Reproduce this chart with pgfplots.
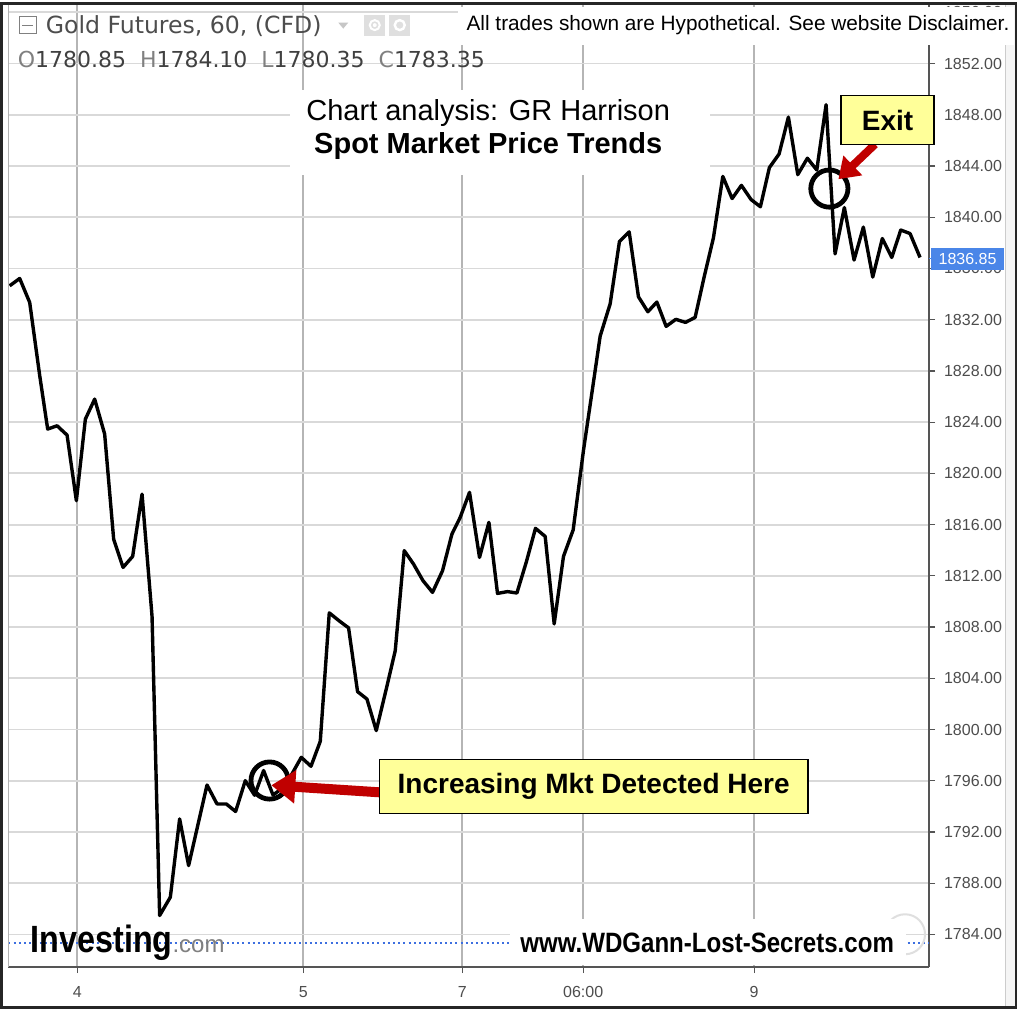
\documentclass[border=0pt]{standalone}
\usepackage{pgfplots}
\pgfplotsset{compat=1.18}
\usepackage{pgfplotstable}
\usepackage{graphicx}
\usetikzlibrary{arrows.meta}
\usepackage{fontspec}
\setmainfont{Liberation Sans}
\newfontfamily\dejavu{DejaVu Sans}
\definecolor{gridh}{HTML}{D9D9D9}
\definecolor{gridv}{HTML}{B5B5B5}
\definecolor{axgray}{HTML}{555555}
\definecolor{lblgray}{HTML}{4D4D4D}
\definecolor{noteyel}{HTML}{FFFF99}
\definecolor{arrred}{HTML}{C00000}
\definecolor{tvblue}{HTML}{4A86E8}
\definecolor{dotblue}{HTML}{3D6FE0}

\pgfplotstableread{
x y
9.3 1834.65
19.3 1835.22
29.3 1833.35
39.3 1827.65
47.3 1823.46
56.7 1823.72
66.7 1822.99
76 1817.87
85 1824.24
94.3 1825.80
104.3 1823.07
113.3 1814.87
122.7 1812.66
132.3 1813.52
141.7 1818.38
151.7 1808.84
159.3 1785.48
170 1786.91
179.3 1793.02
188.3 1789.38
197.7 1792.60
206.7 1795.67
216.7 1794.19
226 1794.19
235.3 1793.60
245 1796.01
254.3 1794.87
263.3 1796.80
272.7 1794.89
282 1795.41
291.5 1796.51
301 1797.83
310.7 1797.13
320 1799.08
329 1809.11
338.7 1808.50
348.3 1807.94
357.3 1802.96
366.7 1802.38
376 1799.92
386 1803.16
395 1806.16
404 1813.97
413.3 1812.92
422.7 1811.63
432.3 1810.71
442.3 1812.40
451.7 1815.26
460 1816.57
469.3 1818.52
479.3 1813.44
488.7 1816.18
497.3 1810.63
507.3 1810.77
516.7 1810.66
526 1813.05
535.3 1815.71
545 1815.08
554 1808.25
563.3 1813.52
573 1815.59
583.3 1821.80
591.7 1826.27
600 1830.72
610 1833.24
619.3 1838.11
629 1838.86
638.3 1833.79
647.7 1832.62
656.7 1833.38
666 1831.48
675.7 1832.03
685.3 1831.79
695 1832.18
704 1835.33
713.3 1838.39
722.7 1843.19
732 1841.46
741.3 1842.49
751 1841.38
760.3 1840.82
769.3 1843.88
779 1844.94
788.3 1847.82
797.7 1843.33
807.3 1844.61
816.7 1843.69
826 1848.79
835 1837.14
844.3 1840.76
854 1836.66
863.3 1839.23
872.7 1835.33
882.3 1838.34
891.7 1836.86
900.7 1839.00
910 1838.73
920 1836.86
}\gold

\begin{document}
\begin{tikzpicture}
\fill[white] (0,0) rectangle (515pt,504pt);
\begin{axis}[
  at={(4pt,21.5pt)}, anchor=south west,
  scale only axis, width=460.5pt, height=482.5pt,
  xmin=8, xmax=929, ymin=1781.44, ymax=1856.76,
  axis x line*=bottom, axis y line*=right,
  axis line style={axgray, line width=0.8pt, -},
  xtick={77,303,462,583,754},
  xticklabels={4,5,7,06:00,9},
  ytick={1784,1788,...,1856},
  yticklabel pos=right,
  tick align=outside,
  major tick length=3pt,
  tick style={axgray, line width=0.6pt},
  grid=major,
  x grid style={gridv, line width=0.9pt},
  y grid style={gridh, line width=0.9pt},
  /pgf/number format/.cd, fixed, fixed zerofill, precision=2, 1000 sep={}, assume math mode=true,
  /pgfplots/.cd,
  yticklabel style={font=\fontsize{8}{8}\selectfont, text=lblgray, xshift=1pt},
  xticklabel style={font=\fontsize{8}{8}\selectfont, text=lblgray, yshift=-3pt},
  clip=false,
]
\addplot[dotblue, line width=0.9pt, dash pattern=on 1pt off 1.6pt] coordinates {(8,1783.35) (929,1783.35)};
\addplot[black, line width=1.7pt, line join=round] table {\gold};
\draw[black, line width=2.4pt] (axis cs:269.3,1796.02) circle[radius=9.3pt];
\draw[black, line width=2.4pt] (axis cs:829.3,1842.24) circle[radius=9.3pt];
\draw[arrred, line width=5pt, -{Triangle[length=12pt,width=16pt]}] (axis cs:379,1795.10) -- (axis cs:271,1795.65);
\draw[arrred, line width=4pt, -{Triangle[length=10pt,width=13pt]}] (axis cs:875,1845.70) -- (axis cs:838.3,1842.97);
\end{axis}
\begin{scope}[x=0.5pt, y=-0.5pt, shift={(0,504pt)}]
% frame
\draw[gray!60, line width=0.6pt] (8,0) -- (8,965);
\fill[gray!8] (1005,2) rectangle (1015,1004);
\draw[gray!40, line width=0.5pt] (1005,2) -- (1005,1004);
\draw[black!85, line width=1.4pt] (1,1) rectangle (1016,1005);
% title
\fill[white] (290,87) rectangle (710,172);
\node[font=\fontsize{14.5}{16.5}\selectfont, align=center] at (488,127) {Chart analysis: GR Harrison\\\textbf{Spot Market Price Trends}};
% disclaimer
\fill[white] (458,4) rectangle (1014,42);
\node[anchor=west, font=\fontsize{10.4}{10.4}\selectfont, inner sep=0] at (466,23) {All trades shown are Hypothetical. See website Disclaimer.};
% header
\draw[gray, line width=0.5pt] (19,14) rectangle (36,31);
\draw[gray, line width=0.6pt] (22,22.5) -- (33,22.5);
\node[anchor=west, font=\dejavu\fontsize{11.8}{11.8}\selectfont, text=lblgray, inner sep=0] at (45,23) {Gold Futures, 60, (CFD)};
\fill[gray!45] (338,20) -- (348,20) -- (343,26) -- cycle;
\fill[gray!25] (364,12) rectangle (385,33);
\fill[gray!25] (389,12) rectangle (410,33);
\draw[white, line width=1pt] (374.5,22.5) circle[radius=2.5pt];
\fill[white] (374.5,22.5) circle[radius=1pt];
\draw[white, line width=1.2pt] (399.5,22.5) circle[radius=2.5pt];
\node[anchor=west, font=\dejavu\fontsize{11}{11}\selectfont, inner sep=0] at (17,57) {\textcolor{gray}{O}\textcolor{black!75}{1780.85}\ \ \textcolor{gray}{H}\textcolor{black!75}{1784.10}\ \ \textcolor{gray}{L}\textcolor{black!75}{1780.35}\ \ \textcolor{gray}{C}\textcolor{black!75}{1783.35}};
% current price label
\fill[tvblue] (931,245) rectangle (1004,267);
\node[white, font=\fontsize{8}{8}\selectfont] at (967.5,256) {1836.85};
\draw[tvblue, line width=0.7pt] (929,256) -- (935,256);
% notes
\node[draw=black, line width=0.7pt, fill=noteyel, minimum width=46.5pt, minimum height=24.5pt, inner sep=0, font=\bfseries\fontsize{14}{14}\selectfont] at (887.5,117.5) {Exit};
\node[draw=black, line width=0.7pt, fill=noteyel, minimum width=214.5pt, minimum height=27pt, inner sep=0, font=\bfseries\fontsize{14}{14}\selectfont] at (593.5,784) {Increasing Mkt Detected Here};
% bottom
\draw[gray!25, line width=1pt] (905,932) circle[radius=10pt];
\fill[white] (510,917) rectangle (906,963);
\node[font=\bfseries\fontsize{14}{14}\selectfont] at (707,941) {\scalebox{0.86}[1]{www.WDGann-Lost-Secrets.com}};
\node[anchor=base west, inner sep=0, font=\bfseries\fontsize{19}{19}\selectfont] at (30,950) {\scalebox{0.85}[1]{Investing}\textcolor{gray}{\mdseries\fontsize{12}{12}\selectfont .com}};
\end{scope}
\useasboundingbox (0,0) rectangle (515pt,504pt);
\end{tikzpicture}
\end{document}
